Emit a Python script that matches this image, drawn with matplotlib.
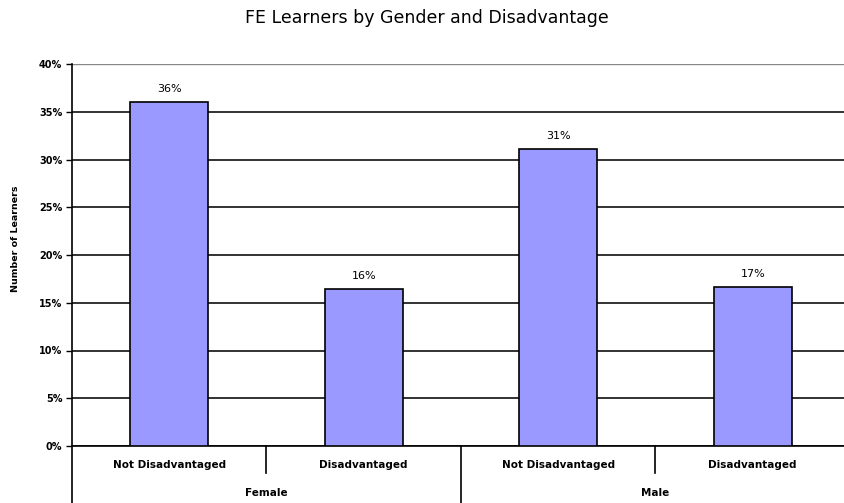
import matplotlib
matplotlib.use("Agg")
import matplotlib.pyplot as plt
from matplotlib.lines import Line2D
import matplotlib.transforms as mtransforms

title = "FE Learners by Gender and Disadvantage"
groups = ["Female", "Male"]
categories = ["Not Disadvantaged", "Disadvantaged", "Not Disadvantaged", "Disadvantaged"]
values = [36.0, 16.4, 31.1, 16.6]
value_labels = ["36%", "16%", "31%", "17%"]
yticks = [0, 5, 10, 15, 20, 25, 30, 35, 40]
ytick_labels = ["0%", "5%", "10%", "15%", "20%", "25%", "30%", "35%", "40%"]
ylabel = "Number of Learners"

W, H = 845, 503
fig = plt.figure(figsize=(W / 100, H / 100), dpi=100)
left, right, top, bottom = 72, 850, 64, 446
ax = fig.add_axes([left / W, 1 - bottom / H, (right - left) / W, (bottom - top) / H])

x = list(range(len(values)))
ax.bar(x, values, width=0.4, color="#9999FF", edgecolor="black", linewidth=1.2, zorder=3)
for xi, v, lab in zip(x, values, value_labels):
    ax.annotate(lab, (xi, v), xytext=(0, 6), textcoords="offset points",
                ha="center", va="bottom", fontsize=8)

ax.set_xlim(-0.5, len(values) - 0.5)
ax.set_ylim(0, 40)
ax.set_yticks(yticks)
ax.set_yticklabels(ytick_labels, fontsize=7, fontweight="bold")
ax.yaxis.grid(True, color="#222222", linewidth=1.3, zorder=0)
ax.get_ygridlines()[-1].set_color("#888888")
ax.get_ygridlines()[-1].set_linewidth(1.0)
ax.set_axisbelow(True)
ax.tick_params(axis="y", length=4, width=1, pad=3)
ax.set_xticks([])
for s in ["top", "right"]:
    ax.spines[s].set_visible(False)
ax.spines["left"].set_linewidth(1.2)
ax.spines["bottom"].set_linewidth(1.2)

fig.text(16 / W, 1 - 239 / H, ylabel, rotation=90, ha="center", va="center",
         fontsize=6.8, fontweight="bold")
fig.text(427 / W, 1 - 18 / H, title, ha="center", va="center", fontsize=12.5)

trans = mtransforms.blended_transform_factory(ax.transData, fig.transFigure)
# category labels
for xi, c in zip(x, categories):
    ax.text(xi, 1 - 465 / H, c, transform=trans, ha="center", va="center",
            fontsize=7.5, fontweight="bold")
# group labels
for gi, g in enumerate(groups):
    ax.text(gi * 2 + 0.5, 1 - 493 / H, g, transform=trans, ha="center", va="center",
            fontsize=7.5, fontweight="bold")
# separators
for xs in [-0.5, 1.5]:
    fig.add_artist(Line2D([xs, xs], [1 - bottom / H, 0], transform=trans, color="black",
                          linewidth=1.2, clip_on=False))
for xs in [0.5, 2.5]:
    fig.add_artist(Line2D([xs, xs], [1 - bottom / H, 1 - 473 / H], transform=trans,
                          color="black", linewidth=1.2, clip_on=False))

fig.savefig("out.png", dpi=100)
